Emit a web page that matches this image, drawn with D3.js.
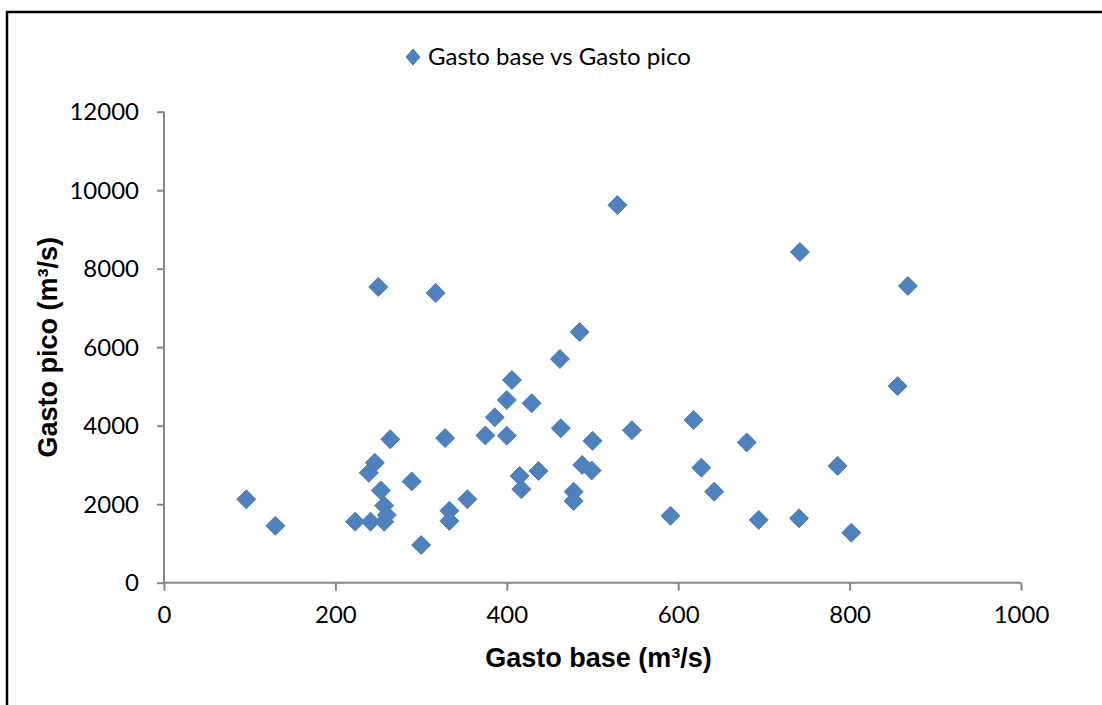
<!DOCTYPE html>
<html>
<head>
<meta charset="utf-8">
<script src="https://cdn.jsdelivr.net/npm/d3@7"></script>
<style>
  html, body { margin: 0; padding: 0; background: #fff; }
  svg { display: block; }
</style>
</head>
<body>
<svg id="chart" width="1102" height="705"></svg>
<script>
// ---- data ----
const seriesName = "Gasto base vs Gasto pico";
const gastoBase = [96, 130, 223, 241, 257, 239, 246, 250, 253, 257, 260, 264, 289, 300, 317, 328, 333, 333, 354, 375,
                   386, 400, 400, 406, 429, 415, 417, 437, 462, 463, 478, 478, 485, 488, 499, 500, 529, 546, 591, 618,
                   627, 642, 680, 694, 742, 741, 786, 802, 856, 868];
const gastoPico = [2125, 1450, 1555, 1555, 1555, 2800, 3055, 7535, 2350, 1965, 1725, 3655, 2580, 960, 7380, 3685, 1835, 1575, 2125, 3750,
                   4215, 4655, 3745, 5165, 4570, 2720, 2380, 2845, 5700, 3935, 2320, 2080, 6385, 3000, 2860, 3615, 9620, 3885, 1705, 4145,
                   2930, 2320, 3575, 1600, 8425, 1640, 2975, 1275, 5010, 7560];
const xTicks = [0, 200, 400, 600, 800, 1000];
const yTicks = [0, 2000, 4000, 6000, 8000, 10000, 12000];
const xTitle = "Gasto base (m³/s)";
const yTitle = "Gasto pico (m³/s)";

(function () {
const points = gastoBase.map((b, i) => ({ x: b, y: gastoPico[i] }));

// ---- layout ----
const svg = d3.select("#chart");
const pL = 164, pR = 1021, pT = 111.7, pB = 582.7;
const x = d3.scaleLinear().domain([0, 1000]).range([pL, pR]);
const y = d3.scaleLinear().domain([0, 12000]).range([pB, pT]);

const axisColor = "#868686";
const tickFont = "Lato, 'Open Sans', sans-serif";

// frame
svg.append("rect")
  .attr("x", 7).attr("y", 12).attr("width", 1300).attr("height", 900)
  .attr("fill", "none").attr("stroke", "#000").attr("stroke-width", 2.5);

// y axis
const gy = svg.append("g")
  .attr("transform", `translate(${pL},0)`)
  .call(d3.axisLeft(y).tickValues(yTicks).tickSize(7).tickPadding(18).tickFormat(d3.format("d")));
// x axis
const gx = svg.append("g")
  .attr("transform", `translate(0,${pB})`)
  .call(d3.axisBottom(x).tickValues(xTicks).tickSize(8).tickPadding(14).tickFormat(d3.format("d")));

[gx, gy].forEach(g => {
  g.select(".domain").attr("stroke", axisColor).attr("stroke-width", 2);
  g.selectAll(".tick line").attr("stroke", axisColor).attr("stroke-width", 2);
  g.selectAll(".tick text")
    .attr("fill", "#000")
    .style("font-family", tickFont)
    .style("font-size", "24px");
});
gy.select(".domain").attr("d", `M0,${pB}V${pT}`);
gx.select(".domain").attr("d", `M${pL},0H${pR}`);
gy.selectAll(".tick text").attr("dy", "0.34em");
gx.selectAll(".tick text").attr("dy", "0.76em");

// axis titles
svg.append("text")
  .attr("x", (pL + pR) / 2 + 6).attr("y", 667)
  .attr("text-anchor", "middle")
  .style("font-family", "'Liberation Sans', Arial, sans-serif")
  .style("font-weight", "bold").style("font-size", "27px")
  .text(xTitle);
svg.append("text")
  .attr("transform", `translate(57,${(pT + pB) / 2}) rotate(-90)`)
  .attr("text-anchor", "middle")
  .style("font-family", "'Liberation Sans', Arial, sans-serif")
  .style("font-weight", "bold").style("font-size", "27px")
  .text(yTitle);

// markers
const fill = "#4f81bd", stroke = "#4a7ebb";
const diamond = (r) => `M0,${-r}L${r},0L0,${r}L${-r},0Z`;
svg.append("g").selectAll("path")
  .data(points)
  .join("path")
  .attr("d", diamond(9.5))
  .attr("transform", d => `translate(${x(d.x)},${y(d.y)})`)
  .attr("fill", fill)
  .attr("stroke", stroke)
  .attr("stroke-width", 1);

// legend
const lg = svg.append("g").attr("transform", "translate(413,57)");
lg.append("path").attr("d", "M0,-8L7,0L0,8L-7,0Z").attr("fill", fill).attr("stroke", stroke);
lg.append("text")
  .attr("x", 15).attr("y", 0).attr("dy", "0.35em")
  .style("font-family", tickFont).style("font-size", "24px")
  .text(seriesName);
})();
</script>
</body>
</html>
